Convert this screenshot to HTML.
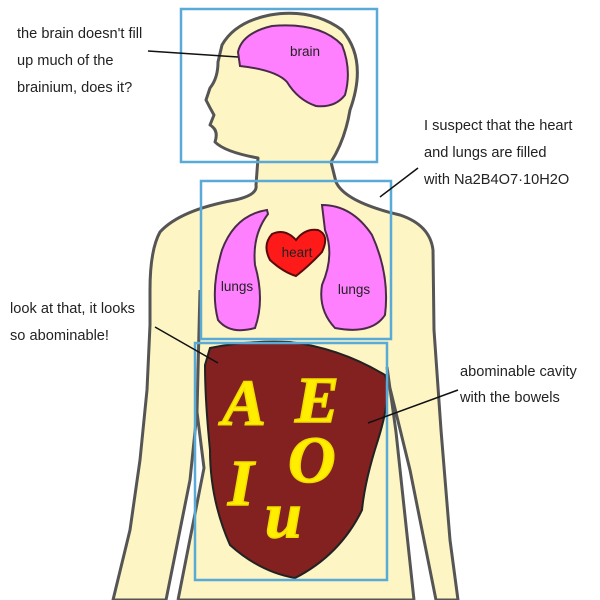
<!DOCTYPE html>
<html><head><meta charset="utf-8"><style>
html,body{margin:0;padding:0;background:#fff;}
svg{display:block;}
.lbl{font-family:"Liberation Sans",sans-serif;}
.cur{font-family:"Liberation Serif",serif;font-style:italic;font-weight:bold;}
</style></head><body>
<svg width="600" height="600" viewBox="0 0 600 600" xmlns="http://www.w3.org/2000/svg">
<rect width="600" height="600" fill="#fff"/>
<!-- body -->
<path d="M258,158 L256,185 Q258,195 235,200 Q180,210 160,232 Q150,250 150,290 L150,325 L147,390 L140,460 L130,530 L113,600 L458,600 L450,540 L441,430 L434,330 L433,250 Q430,225 400,215 Q345,202 336,182 L331,162 Q345,140 350,110 Q368,60 342,30 Q312,8 270,15 Q235,22 222,45 L218,62 Q218,78 210,88 L206,100 Q210,108 214,115 L210,125 Q219,130 215,142 Q225,152 258,158 Z" fill="#fdf5c4" stroke="#555" stroke-width="3" stroke-linejoin="round"/>
<!-- arm gaps -->
<path d="M197,425 L204,468 L178,600 L166,600 L190,480 Z" fill="#fff"/>
<path d="M200,290 L197,412 L190,480 L166,600 M197,412 L204,468 L178,600" fill="none" stroke="#555" stroke-width="3"/>
<path d="M388,375 L396,432 L414,600 L436,600 L410,470 Z" fill="#fff"/>
<path d="M387,367 L396,432 L414,600 M388,380 L410,470 L436,600" fill="none" stroke="#555" stroke-width="3"/>
<!-- brain -->
<path d="M238,52 Q242,33 272,26 Q320,22 342,45 Q352,70 345,95 Q335,108 316,106 Q298,100 287,82 Q276,70 240,66 Z" fill="#ff80ff" stroke="#4a2a4a" stroke-width="2"/>
<text class="lbl" x="305" y="56" font-size="13.5" text-anchor="middle" fill="#222">brain</text>
<!-- lungs -->
<path d="M267,210 Q235,215 222,250 Q210,290 218,320 Q230,335 255,328 Q265,300 255,265 Q252,235 268,214 Z" fill="#ff80ff" stroke="#4a2a4a" stroke-width="2"/>
<path d="M322,205 Q352,205 372,235 Q390,275 385,315 Q372,335 335,328 Q318,310 322,285 Q335,255 325,230 Z" fill="#ff80ff" stroke="#4a2a4a" stroke-width="2"/>
<text class="lbl" x="237" y="291" font-size="13.5" text-anchor="middle" fill="#222">lungs</text>
<text class="lbl" x="354" y="294" font-size="13.5" text-anchor="middle" fill="#222">lungs</text>
<!-- heart -->
<path d="M296,240 Q285,228 272,234 Q262,245 270,260 Q283,272 296,276 Q310,265 322,252 Q330,235 318,230 Q305,228 296,240 Z" fill="#ff1a1a" stroke="#5a0a0a" stroke-width="2"/>
<text class="lbl" x="297" y="257" font-size="13.5" text-anchor="middle" fill="#222">heart</text>
<!-- abdomen -->
<path d="M210,348 Q250,340 290,342 Q340,348 385,375 Q392,395 378,440 Q365,480 362,510 Q340,555 295,578 Q260,572 230,545 Q210,500 210,450 Q205,400 205,365 Z" fill="#832020" stroke="#222" stroke-width="2"/>
<g class="cur" font-size="66" fill="#ffee00" stroke="#f0dd00" stroke-width="1.5">
<text x="222" y="425">A</text>
<text x="295" y="422">E</text>
<text x="228" y="505">I</text>
<text x="288" y="482">O</text>
<text x="265" y="537">u</text>
</g>
<!-- boxes -->
<g fill="none" stroke="#5aaad8" stroke-width="2.5">
<rect x="181" y="9" width="196" height="153"/>
<rect x="201" y="181" width="190" height="158"/>
<rect x="195" y="343" width="192" height="237"/>
</g>
<!-- leader lines -->
<g stroke="#111" stroke-width="1.5">
<line x1="148" y1="51" x2="238" y2="57"/>
<line x1="380" y1="197" x2="418" y2="168"/>
<line x1="155" y1="327" x2="218" y2="363"/>
<line x1="368" y1="423" x2="458" y2="390"/>
</g>
<g class="lbl" font-size="14.6" fill="#222">
<text x="17" y="38">the brain doesn't fill</text>
<text x="17" y="65">up much of the</text>
<text x="17" y="92">brainium, does it?</text>
<text x="424" y="130">I suspect that the heart</text>
<text x="424" y="157">and lungs are filled</text>
<text x="424" y="184">with Na2B4O7·10H2O</text>
<text x="10" y="313">look at that, it looks</text>
<text x="10" y="340">so abominable!</text>
<text x="460" y="376">abominable cavity</text>
<text x="460" y="402">with the bowels</text>
</g>
</svg>
</body></html>
